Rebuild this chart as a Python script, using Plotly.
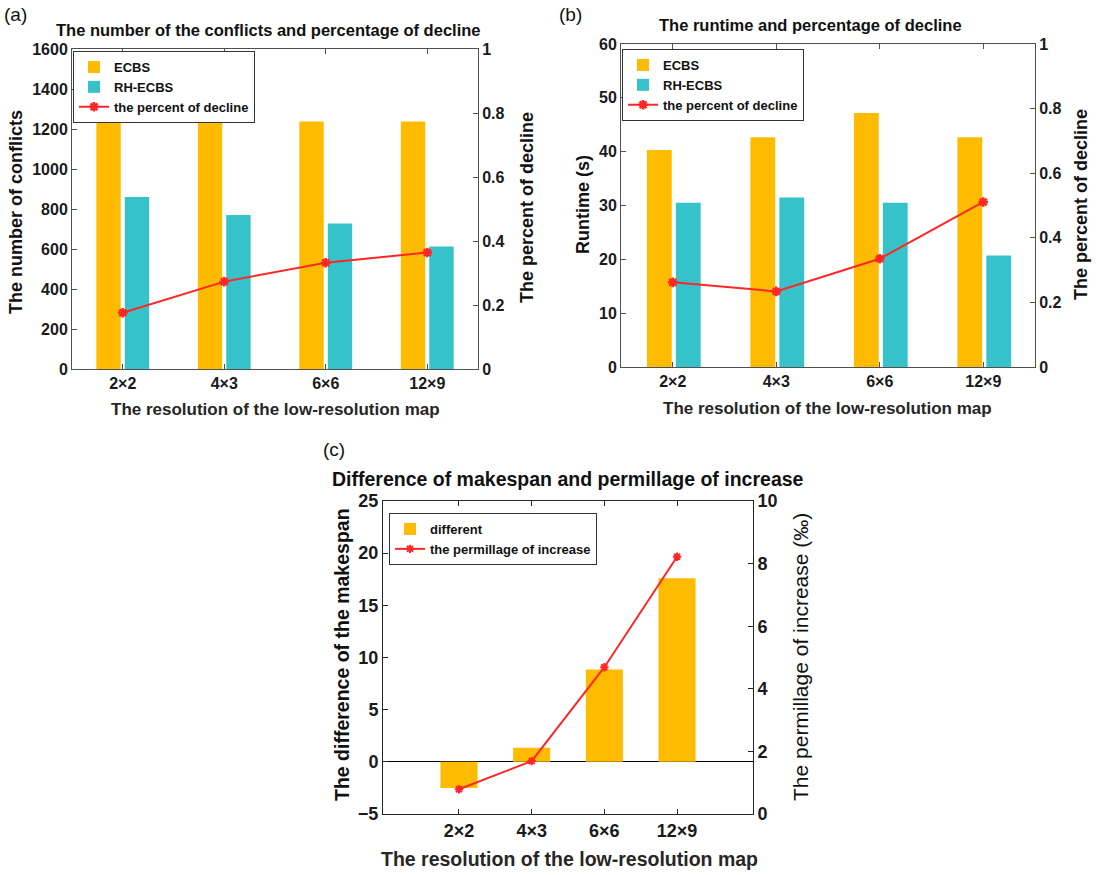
import plotly.graph_objects as go

W, H = 1096, 875

categories = ["2×2", "4×3", "6×6", "12×9"]

conflicts_ecbs = [1237, 1237, 1237, 1237]
conflicts_rh = [860, 770, 727, 612]
conflicts_decline = [0.176, 0.273, 0.332, 0.364]

runtime_ecbs = [40.3, 42.7, 47.2, 42.7]
runtime_rh = [30.5, 31.5, 30.5, 20.7]
runtime_decline = [0.262, 0.234, 0.335, 0.511]

makespan_diff = [-2.5, 1.35, 8.85, 17.6]
makespan_permille = [0.79, 1.69, 4.69, 8.22]

ORANGE = "#FFBB00"
TEAL = "#36C2C9"
RED = "#FF2626"
FONT = "Liberation Sans"


def px(x):
    return x / W


def py(y):
    return 1 - y / H


fig = go.Figure()

marker_star = dict(symbol="asterisk-open", size=8, color=RED, line=dict(color=RED, width=2.5))

# Panel (a)
fig.add_trace(go.Bar(x=categories, y=conflicts_ecbs, name="ECBS", marker=dict(color=ORANGE, line=dict(width=0)),
                     width=0.24, offset=-0.26, xaxis="x", yaxis="y", legend="legend"))
fig.add_trace(go.Bar(x=categories, y=conflicts_rh, name="RH-ECBS", marker=dict(color=TEAL, line=dict(width=0)),
                     width=0.24, offset=0.02, xaxis="x", yaxis="y", legend="legend"))
fig.add_trace(go.Scatter(x=categories, y=conflicts_decline, name="the percent of decline", mode="lines+markers",
                         line=dict(color=RED, width=2), marker=marker_star, xaxis="x", yaxis="y2", legend="legend"))

# Panel (b)
fig.add_trace(go.Bar(x=categories, y=runtime_ecbs, name="ECBS", marker=dict(color=ORANGE, line=dict(width=0)),
                     width=0.24, offset=-0.25, xaxis="x2", yaxis="y3", legend="legend2"))
fig.add_trace(go.Bar(x=categories, y=runtime_rh, name="RH-ECBS", marker=dict(color=TEAL, line=dict(width=0)),
                     width=0.24, offset=0.03, xaxis="x2", yaxis="y3", legend="legend2"))
fig.add_trace(go.Scatter(x=categories, y=runtime_decline, name="the percent of decline", mode="lines+markers",
                         line=dict(color=RED, width=2), marker=marker_star, xaxis="x2", yaxis="y4", legend="legend2"))

# Panel (c)
fig.add_trace(go.Bar(x=categories, y=makespan_diff, name="different", marker=dict(color=ORANGE, line=dict(width=0)),
                     width=0.51, xaxis="x3", yaxis="y5", legend="legend3"))
fig.add_trace(go.Scatter(x=categories, y=makespan_permille, name="the permillage of increase", mode="lines+markers",
                         line=dict(color=RED, width=2), marker=dict(symbol="asterisk-open", size=7, color=RED,
                                                                    line=dict(color=RED, width=2)),
                         xaxis="x3", yaxis="y6", legend="legend3"))

AX_AB = "#505050"
AX_C = "#262626"


def xaxis(domain, rng, anchor, fsize, color):
    return dict(domain=domain, range=rng, anchor=anchor, type="category", showline=True, linecolor=color,
                linewidth=1, mirror="ticks", ticks="inside", ticklen=5, tickcolor=color, showgrid=False,
                zeroline=False, automargin=False,
                tickfont=dict(family=FONT, size=fsize, color="#1a1a1a", weight="bold"))


def yaxis(domain, rng, dtick, anchor, fsize, color, side="left", overlaying=None, zeroline=False):
    d = dict(domain=domain, range=rng, dtick=dtick, tick0=rng[0], anchor=anchor, side=side, showline=True,
             linecolor=color, linewidth=1, ticks="inside", ticklen=5, tickcolor=color, showgrid=False,
             zeroline=zeroline, zerolinecolor="black", zerolinewidth=1, automargin=False,
             tickfont=dict(family=FONT, size=fsize, color="#1a1a1a", weight="bold"))
    if overlaying:
        d["overlaying"] = overlaying
    return d


legend_font = dict(family=FONT, size=13, color="#111111", weight="bold")

fig.update_layout(
    width=W, height=H, autosize=False,
    margin=dict(l=0, r=0, t=0, b=0, autoexpand=False),
    paper_bgcolor="white", plot_bgcolor="white",
    barmode="overlay",
    font=dict(family=FONT),
    xaxis=xaxis([px(72), px(478)], [-0.5, 3.5], "y", 16, AX_AB),
    yaxis=yaxis([py(369), py(49)], [0, 1600], 200, "x", 16, AX_AB),
    yaxis2=yaxis([py(369), py(49)], [0, 1], 0.2, "x", 16, AX_AB, side="right", overlaying="y"),
    xaxis2=xaxis([px(621), px(1035)], [-0.5, 3.5], "y3", 16, AX_AB),
    yaxis3=yaxis([py(367), py(44)], [0, 60], 10, "x2", 16, AX_AB),
    yaxis4=yaxis([py(367), py(44)], [0, 1], 0.2, "x2", 16, AX_AB, side="right", overlaying="y3"),
    xaxis3=xaxis([px(383), px(753)], [-1.045, 4.045], "y5", 18, AX_C),
    yaxis5=yaxis([py(814), py(501)], [-5, 25], 5, "x3", 18, AX_C, zeroline=True),
    yaxis6=yaxis([py(814), py(501)], [0, 10], 2, "x3", 18, AX_C, side="right", overlaying="y5"),
    legend=dict(x=px(73), y=py(51), xanchor="left", yanchor="top", bgcolor="white", bordercolor="#333333",
                borderwidth=1, font=legend_font, tracegroupgap=0, itemwidth=30),
    legend2=dict(x=px(622), y=py(49), xanchor="left", yanchor="top", bgcolor="white", bordercolor="#333333",
                 borderwidth=1, font=legend_font, tracegroupgap=0, itemwidth=30),
    legend3=dict(x=px(389), y=py(513), xanchor="left", yanchor="top", bgcolor="white", bordercolor="#333333",
                 borderwidth=1, font=legend_font, tracegroupgap=0, itemwidth=30),
    showlegend=True,
)


def ann(text, x, y, size, bold=True, angle=0, xanchor="center", color="#111111"):
    fig.add_annotation(text=text, x=px(x), y=py(y), xref="paper", yref="paper", showarrow=False,
                       xanchor=xanchor, yanchor="middle", textangle=angle,
                       font=dict(family=FONT, size=size, color=color, weight="bold" if bold else "normal"))


# Panel letters
ann("(a)", 2, 15, 19, bold=False, xanchor="left")
ann("(b)", 557, 15, 19, bold=False, xanchor="left")
ann("(c)", 321, 449, 19, bold=False, xanchor="left")

# Titles
ann("The number of the conflicts and percentage of decline", 268, 30, 16.5)
ann("The runtime and percentage of decline", 810, 25, 16.5)
ann("Difference of makespan and permillage of increase", 568, 479, 19.5)

# Axis titles (a)
ann("The number of conflicts", 16, 212, 18, angle=-90)
ann("The percent of decline", 527, 208, 18, angle=-90)
ann("The resolution of the low-resolution map", 275, 409, 17, color="#262626")

# Axis titles (b)
ann("Runtime (s)", 583, 205, 18, angle=-90)
ann("The percent of decline", 1081, 205, 18, angle=-90)
ann("The resolution of the low-resolution map", 827, 408, 17, color="#262626")

# Axis titles (c)
ann("The difference of the makespan", 342, 655, 19.5, angle=-90)
ann("The permillage of increase (‰)", 800, 657, 21, bold=False, angle=-90)
ann("The resolution of the low-resolution map", 569, 859, 19.5, color="#262626")

# Remove the default 8px page margin so the figure fills the window exactly
fig.write_html("out.html", config={"displayModeBar": False},
               post_script="document.body.style.margin='0';document.body.style.overflow='hidden';")
